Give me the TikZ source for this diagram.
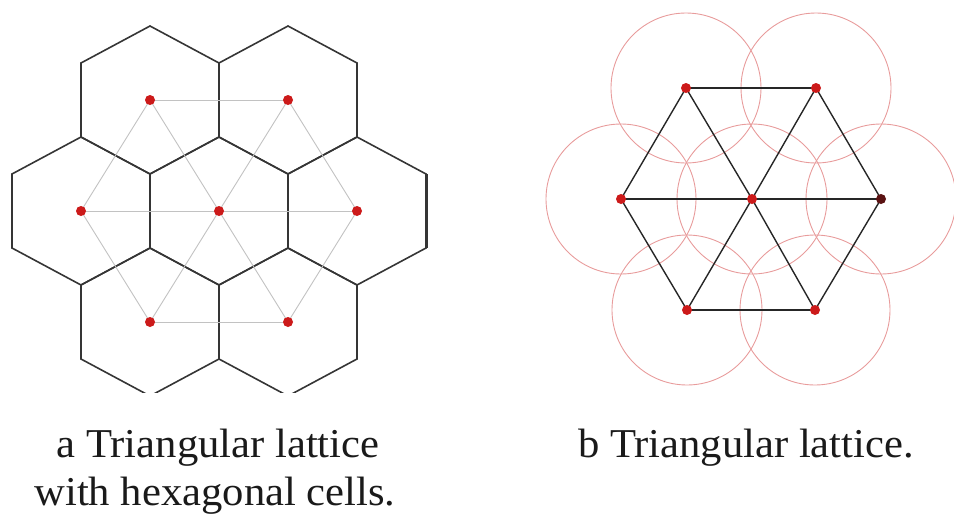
\documentclass[tikz,border=0pt]{standalone}
\usepackage{graphicx}
\usepackage{fontspec}
\setmainfont{Liberation Serif}
\definecolor{dotred}{HTML}{CC1A1A}
\definecolor{darkdot}{HTML}{5A1212}
\definecolor{hexgray}{HTML}{353535}
\definecolor{trigray}{HTML}{C2C2C2}
\definecolor{ringred}{HTML}{E89C9C}
\definecolor{edgeblack}{HTML}{262626}
\definecolor{textblack}{HTML}{1A1A1A}
\begin{document}
\begin{tikzpicture}[x=1pt,y=-1pt,
  dot/.style={circle,fill=dotred,inner sep=0pt,minimum size=10pt},
  hexcell/.style={draw=hexgray,line width=1.6pt,line join=miter},
  triedge/.style={draw=trigray,line width=0.9pt},
  ring/.style={draw=ringred,line width=0.9pt},
  latedge/.style={draw=edgeblack,line width=1.4pt},
  caption/.style={font=\fontsize{41}{48}\selectfont,text=textblack,inner sep=0pt,anchor=base}]
\useasboundingbox (0,0) rectangle (954,517);

% ---------- left panel: hexagonal cells ----------
\begin{scope}
  \clip (0,0) rectangle (480,392);
  \foreach \cx/\cy in {150/100,288/100,81/211,219/211,357/211,150/322,288/322}
    \draw[hexcell] (\cx,\cy-74) -- (\cx+69,\cy-37) -- (\cx+69,\cy+37) -- (\cx,\cy+74)
      -- (\cx-69,\cy+37) -- (\cx-69,\cy-37) -- cycle;
  \draw[hexgray,line width=3pt] (426,174) -- (426,248);
\end{scope}

\coordinate (a1) at (150,100);
\coordinate (a2) at (288,100);
\coordinate (a3) at (81,211);
\coordinate (a4) at (219,211);
\coordinate (a5) at (357,211);
\coordinate (a6) at (150,322);
\coordinate (a7) at (288,322);
\foreach \u/\v in {a1/a2,a1/a3,a1/a4,a2/a4,a2/a5,a3/a4,a4/a5,a3/a6,a4/a6,a4/a7,a5/a7,a6/a7}
  \draw[triedge] (\u) -- (\v);
\foreach \p in {a1,a2,a3,a4,a5,a6,a7}
  \node[dot] (d\p) at (\p) {};

% ---------- right panel: triangular lattice with circles ----------
\coordinate (b1) at (686,88);
\coordinate (b2) at (816,88);
\coordinate (b3) at (621,199);
\coordinate (b4) at (752,199);
\coordinate (b5) at (881,199);
\coordinate (b6) at (687,310);
\coordinate (b7) at (815,310);
\foreach \p in {b1,b2,b3,b4,b5,b6,b7}
  \draw[ring] (\p) circle [radius=75];
\foreach \u/\v in {b1/b2,b1/b3,b1/b4,b2/b4,b2/b5,b3/b4,b4/b5,b3/b6,b4/b6,b4/b7,b5/b7,b6/b7}
  \draw[latedge] (\u) -- (\v);
\foreach \p in {b1,b2,b3,b4,b6,b7}
  \node[dot] (d\p) at (\p) {};
\node[dot,fill=darkdot] (db5) at (b5) {};

% ---------- captions ----------
\node[caption] (capA1) at (218,457) {\scalebox{1.04}[1]{a Triangular lattice}};
\node[caption] (capA2) at (215,505) {\scalebox{1.04}[1]{with hexagonal cells.}};
\node[caption] (capB) at (746,457) {\scalebox{1.04}[1]{b Triangular lattice.}};
\end{tikzpicture}
\end{document}
